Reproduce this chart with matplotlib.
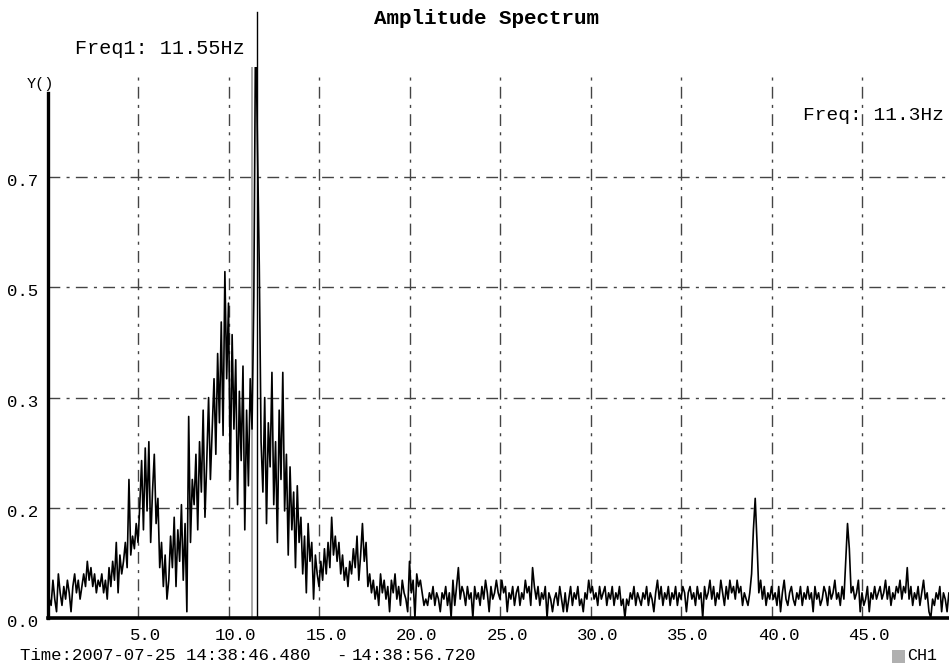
import numpy as np
import matplotlib
matplotlib.use("Agg")
import matplotlib.pyplot as plt
import matplotlib.transforms as mtransforms

# ---------------- data ----------------
freq_step = 0.1  # Hz, spectrum bin width
amplitude = [
    # 0 Hz
    0.08, 0.03, 0.02, 0.06, 0.03, 0.01, 0.07, 0.04, 0.02, 0.05,
    0.03, 0.06, 0.04, 0.01, 0.05, 0.07, 0.04, 0.06, 0.03, 0.05,
    0.07, 0.05, 0.09, 0.06, 0.08, 0.05, 0.07, 0.04, 0.06, 0.05,
    0.07, 0.04, 0.06, 0.03, 0.08, 0.05, 0.09, 0.06, 0.12, 0.04,
    0.10, 0.07, 0.09, 0.12, 0.08, 0.22, 0.10, 0.13, 0.11, 0.15,
    # 5 Hz
    0.12, 0.18, 0.25, 0.14, 0.27, 0.17, 0.28, 0.12, 0.20, 0.26,
    0.15, 0.19, 0.08, 0.12, 0.05, 0.10, 0.03, 0.06, 0.13, 0.08,
    0.16, 0.05, 0.14, 0.09, 0.18, 0.06, 0.15, 0.01, 0.32, 0.12,
    0.22, 0.18, 0.26, 0.14, 0.28, 0.20, 0.33, 0.16, 0.25, 0.35,
    0.22, 0.30, 0.38, 0.26, 0.42, 0.31, 0.47, 0.29, 0.55, 0.38,
    # 10 Hz
    0.50, 0.22, 0.45, 0.30, 0.41, 0.18, 0.36, 0.25, 0.40, 0.14,
    0.33, 0.21, 0.38, 0.30, 0.51, 0.96, 0.75, 0.56, 0.28, 0.20,
    0.35, 0.15, 0.31, 0.24, 0.39, 0.18, 0.28, 0.12, 0.33, 0.22,
    0.39, 0.17, 0.26, 0.10, 0.24, 0.14, 0.20, 0.08, 0.21, 0.12,
    0.16, 0.07, 0.13, 0.04, 0.15, 0.09, 0.12, 0.03, 0.10, 0.07,
    # 15 Hz
    0.05, 0.09, 0.06, 0.11, 0.07, 0.12, 0.08, 0.16, 0.10, 0.13,
    0.09, 0.12, 0.07, 0.10, 0.06, 0.08, 0.05, 0.09, 0.07, 0.11,
    0.08, 0.13, 0.06, 0.10, 0.15, 0.09, 0.12, 0.05, 0.07, 0.04,
    0.06, 0.03, 0.05, 0.02, 0.07, 0.04, 0.06, 0.03, 0.05, 0.01,
    0.06, 0.04, 0.07, 0.03, 0.05, 0.02, 0.06, 0.04, 0.03, 0.01,
    # 20 Hz
    0.09, 0.04, 0.06, 0.00, 0.07, 0.05, 0.06, 0.04, 0.02, 0.03,
    0.02, 0.04, 0.03, 0.05, 0.02, 0.04, 0.03, 0.01, 0.04, 0.03,
    0.05, 0.02, 0.04, 0.00, 0.06, 0.02, 0.05, 0.08, 0.03, 0.05,
    0.04, 0.02, 0.05, 0.03, 0.04, 0.00, 0.05, 0.03, 0.04, 0.02,
    0.05, 0.03, 0.06, 0.04, 0.01, 0.05, 0.03, 0.04, 0.06, 0.04,
    # 25 Hz
    0.03, 0.06, 0.04, 0.05, 0.01, 0.04, 0.03, 0.05, 0.02, 0.04,
    0.05, 0.02, 0.04, 0.03, 0.06, 0.04, 0.05, 0.02, 0.08, 0.05,
    0.03, 0.05, 0.02, 0.04, 0.03, 0.05, 0.00, 0.04, 0.03, 0.01,
    0.03, 0.04, 0.02, 0.05, 0.03, 0.01, 0.04, 0.01, 0.03, 0.05,
    0.02, 0.04, 0.03, 0.05, 0.02, 0.03, 0.01, 0.04, 0.03, 0.06,
    # 30 Hz
    0.04, 0.05, 0.03, 0.04, 0.02, 0.05, 0.03, 0.04, 0.05, 0.02,
    0.04, 0.03, 0.05, 0.02, 0.04, 0.03, 0.05, 0.02, 0.03, 0.00,
    0.03, 0.02, 0.04, 0.03, 0.05, 0.02, 0.04, 0.03, 0.02, 0.04,
    0.03, 0.05, 0.02, 0.04, 0.03, 0.01, 0.04, 0.06, 0.03, 0.05,
    0.02, 0.04, 0.03, 0.05, 0.02, 0.04, 0.03, 0.05, 0.02, 0.04,
    # 35 Hz
    0.03, 0.05, 0.04, 0.01, 0.04, 0.05, 0.03, 0.04, 0.02, 0.05,
    0.03, 0.04, 0.00, 0.05, 0.03, 0.04, 0.06, 0.03, 0.05, 0.02,
    0.04, 0.03, 0.06, 0.04, 0.02, 0.05, 0.03, 0.06, 0.04, 0.05,
    0.03, 0.06, 0.04, 0.05, 0.02, 0.04, 0.03, 0.02, 0.04, 0.07,
    0.14, 0.19, 0.12, 0.04, 0.06, 0.03, 0.05, 0.02, 0.04, 0.03,
    # 40 Hz
    0.05, 0.03, 0.04, 0.02, 0.05, 0.01, 0.04, 0.06, 0.03, 0.02,
    0.04, 0.05, 0.03, 0.02, 0.04, 0.03, 0.05, 0.02, 0.04, 0.03,
    0.05, 0.03, 0.04, 0.01, 0.05, 0.03, 0.04, 0.02, 0.03, 0.05,
    0.04, 0.02, 0.05, 0.03, 0.04, 0.06, 0.03, 0.04, 0.02, 0.05,
    0.03, 0.09, 0.15, 0.11, 0.04, 0.05, 0.03, 0.04, 0.06, 0.01,
    # 45 Hz
    0.04, 0.02, 0.03, 0.05, 0.01, 0.04, 0.03, 0.05, 0.03, 0.04,
    0.05, 0.03, 0.04, 0.06, 0.03, 0.05, 0.02, 0.04, 0.03, 0.05,
    0.04, 0.06, 0.03, 0.05, 0.04, 0.08, 0.03, 0.05, 0.02, 0.04,
    0.03, 0.05, 0.02, 0.04, 0.06, 0.03, 0.04, 0.01, 0.00, 0.03,
    0.02, 0.04, 0.03, 0.05, 0.01, 0.04, 0.03, 0.01, 0.04, 0.02,
]
freqs = np.arange(len(amplitude)) * freq_step

x_ticks = [5.0, 10.0, 15.0, 20.0, 25.0, 30.0, 35.0, 40.0, 45.0]
y_ticks = [0.0, 0.175, 0.35, 0.525, 0.7]
cursor_freq = 11.3
peak_freq = 11.55
peak_top = 0.962

title = "Amplitude Spectrum"
freq1_text = "Freq1: 11.55Hz"
freq_text = "Freq: 11.3Hz"
time_start = "Time:2007-07-25 14:38:46.480"
time_end = "14:38:56.720"
channel = "CH1"

# ---------------- figure ----------------
W, H = 949, 666
fig = plt.figure(figsize=(W / 100, H / 100), dpi=100)
fig.patch.set_facecolor("white")

def fx(px):
    return px / W

def fy(py):
    return 1 - py / H

ax_left, ax_right, ax_top, ax_bottom = 47.5, 949, 67, 618
ax = fig.add_axes([fx(ax_left), fy(ax_bottom), fx(ax_right - ax_left), (ax_bottom - ax_top) / H])
ax.set_xlim(0, (ax_right - ax_left) / 18.1)
ax.set_ylim(0, 0.875)

mono = "Liberation Mono"
grid_color = "#444444"
dash = (0, (8.5, 4.5, 2.2, 4.5))

for xv in x_ticks:
    ax.axvline(xv, ymax=(ax_bottom - 72) / (ax_bottom - ax_top), color=grid_color,
               lw=1.0, linestyle=dash, zorder=1)
for yv in y_ticks[1:]:
    ax.axhline(yv, color=grid_color, lw=1.0, linestyle=dash, zorder=1)

# cursor lines
ax.axvline(cursor_freq, color="#a8a8a8", lw=1.4, zorder=2)
ax.plot([peak_freq, peak_freq], [0, peak_top], color="black", lw=1.0, clip_on=False, zorder=4)

# spectrum
ax.plot(freqs, amplitude, color="black", lw=1.2, zorder=3)

# spines
for s in ax.spines.values():
    s.set_visible(False)
ax.plot([0, 1], [0, 0], transform=ax.transAxes, color="black", lw=2.6, clip_on=False, zorder=5)
y_axis_top = (ax_bottom - 93) / (ax_bottom - ax_top)
ax.plot([0, 0], [0, y_axis_top], transform=ax.transAxes, color="black", lw=2.4, clip_on=False, zorder=5)

# ticks
ax.set_xticks(x_ticks)
ax.set_xticklabels([f"{v:.1f}" for v in x_ticks], fontfamily=mono, fontsize=12.5)
ax.set_yticks(y_ticks)
ax.set_yticklabels([f"{v:.1f}" for v in y_ticks], fontfamily=mono, fontsize=12.5)
ax.tick_params(axis="both", length=0)
ax.tick_params(axis="x", pad=7)
ax.tick_params(axis="y", pad=7)
offset = mtransforms.ScaledTranslation(7 / 100, 0, fig.dpi_scale_trans)
for lbl in ax.get_xticklabels():
    lbl.set_transform(lbl.get_transform() + offset)
yoff = mtransforms.ScaledTranslation(0, -3 / 100, fig.dpi_scale_trans)
for lbl in ax.get_yticklabels():
    lbl.set_transform(lbl.get_transform() + yoff)

# texts
fig.text(fx(487), fy(18), title, fontfamily=mono, fontweight="bold", fontsize=15,
         ha="center", va="center")
fig.text(fx(75), fy(48), freq1_text, fontfamily=mono, fontsize=14.5, ha="left", va="center")
fig.text(fx(944), fy(116), freq_text, fontfamily=mono, fontsize=14, ha="right", va="center")
fig.text(fx(27), fy(84), "Y()", fontfamily=mono, fontsize=11, ha="left", va="center")
fig.text(fx(20), fy(656), time_start, fontfamily=mono, fontsize=12.5, ha="left", va="center")
fig.text(fx(336), fy(656), "-", fontfamily=mono, fontsize=12.5, ha="left", va="center")
fig.text(fx(352), fy(656), time_end, fontfamily=mono, fontsize=12.5, ha="left", va="center")
fig.patches.append(plt.Rectangle((fx(892), fy(663)), fx(13), 13 / H, transform=fig.transFigure,
                                 facecolor="#b0b0b0", edgecolor="none"))
fig.text(fx(907), fy(656), channel, fontfamily=mono, fontsize=12, ha="left", va="center")

fig.savefig("out.png", dpi=100, facecolor="white")
